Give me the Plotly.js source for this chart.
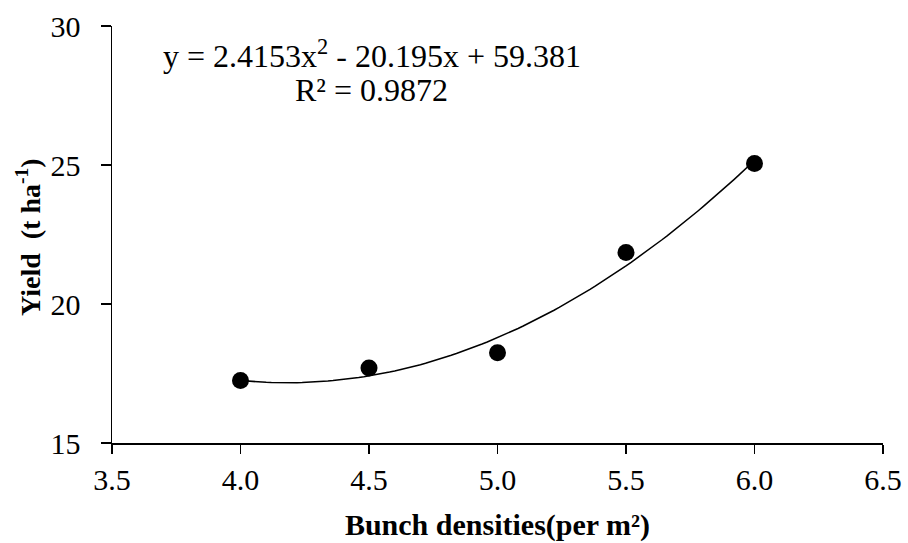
<!DOCTYPE html>
<html>
<head>
<meta charset="utf-8">
<script src="https://cdn.plot.ly/plotly-3.0.1.min.js"></script>
<style>html,body{margin:0;padding:0;background:#fff;}#chart{width:908px;height:543px;}</style>
</head>
<body>
<div id="chart"></div>
<script>
const densities = [4.0, 4.5, 5.0, 5.5, 6.0];
const yields = [17.25, 17.7, 18.25, 21.85, 25.05];
const trendCoefs = [2.4153, -20.195, 59.381]; // a, b, c as printed on chart
const xTickVals = [3.5, 4.0, 4.5, 5.0, 5.5, 6.0, 6.5];
const xTickText = ["3.5", "4.0", "4.5", "5.0", "5.5", "6.0", "6.5"];
const yTickVals = [15, 20, 25, 30];
const yTickText = ["15", "20", "25", "30"];

const trendX = [];
const trendY = [];
for (let i = 0; i <= 100; i++) {
  const x = densities[0] + (densities[densities.length - 1] - densities[0]) * i / 100;
  trendX.push(x);
  trendY.push(trendCoefs[0] * x * x + trendCoefs[1] * x + trendCoefs[2]);
}

const font = "Liberation Serif";

const traces = [
  {
    x: trendX, y: trendY, type: 'scatter', mode: 'lines',
    line: {color: '#000', width: 1.5}, hoverinfo: 'skip', showlegend: false
  },
  {
    x: densities, y: yields, type: 'scatter', mode: 'markers',
    marker: {color: '#000', size: 17}, showlegend: false
  }
];

const layout = {
  width: 908, height: 543,
  margin: {l: 112, r: 25, t: 26, b: 100},
  paper_bgcolor: '#fff', plot_bgcolor: '#fff',
  font: {family: font, color: '#000', size: 24},
  showlegend: false,
  xaxis: {
    range: [3.5, 6.5], tickvals: xTickVals, ticktext: xTickText,
    showgrid: false, zeroline: false, showline: true, linecolor: '#000', linewidth: 1.5,
    ticks: 'outside', ticklen: 9, tickwidth: 1.5, tickcolor: '#000',
    ticklabelstandoff: 0,
    tickfont: {family: font, size: 30, color: '#000'},
    title: {text: '<b>Bunch densities(per m²)</b>', font: {family: font, size: 30, color: '#000'}, standoff: 19}
  },
  yaxis: {
    range: [15, 30], tickvals: yTickVals, ticktext: yTickText,
    showgrid: false, zeroline: false, showline: true, linecolor: '#000', linewidth: 1.5,
    ticks: 'outside', ticklen: 10, tickwidth: 1.5, tickcolor: '#000',
    ticklabelstandoff: 14,
    tickfont: {family: font, size: 30, color: '#000'},
    title: {text: ''}
  },
  annotations: [
    {xref: 'paper', yref: 'paper', x: -0.109, y: 0.494, xanchor: 'center', yanchor: 'middle',
     textangle: -90, text: '<b>Yield  (t ha<sup>-1</sup>)</b>', showarrow: false,
     font: {family: font, size: 28, color: '#000'}},
    {xref: 'paper', yref: 'paper', x: 0.337, y: 0.932, xanchor: 'center', yanchor: 'middle',
     text: 'y = 2.4153x<sup>2</sup> - 20.195x + 59.381', showarrow: false,
     font: {family: font, size: 32, color: '#000'}},
    {xref: 'paper', yref: 'paper', x: 0.337, y: 0.847, xanchor: 'center', yanchor: 'middle',
     text: 'R² = 0.9872', showarrow: false,
     font: {family: font, size: 32, color: '#000'}}
  ]
};

Plotly.newPlot('chart', traces, layout, {displayModeBar: false, staticPlot: true});
</script>
</body>
</html>
